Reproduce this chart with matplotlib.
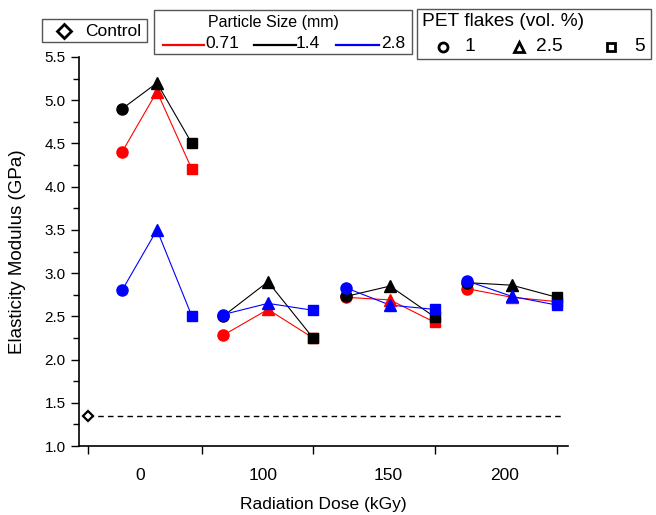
import matplotlib
matplotlib.use("Agg")
from matplotlib import pyplot as plt
from matplotlib.lines import Line2D
from matplotlib.patches import Rectangle
import numpy as np

plt.rcParams['font.family'] = ['Liberation Sans', 'DejaVu Sans']

# data
dose_labels = ['0', '100', '150', '200']
sizes = ['0.71', '1.4', '2.8']
size_colors = ['#ff0000', '#000000', '#0000ff']
vol_labels = ['1', '2.5', '5']
vol_markers = ['o', '^', 's']

# modulus (GPa) per particle size, per dose group, for 1 / 2.5 / 5 vol.%
modulus = {
    '0.71': [[4.40, 5.10, 4.20], [2.28, 2.58, 2.25], [2.72, 2.69, 2.43], [2.82, 2.72, 2.67]],
    '1.4': [[4.90, 5.20, 4.50], [2.50, 2.90, 2.25], [2.73, 2.85, 2.49], [2.89, 2.86, 2.72]],
    '2.8': [[2.80, 3.50, 2.50], [2.52, 2.65, 2.57], [2.83, 2.63, 2.58], [2.91, 2.73, 2.63]],
}
control = 1.35

# x positions (category axis)
group_x = [[0.296, 0.600, 0.904],
           [1.174, 1.565, 1.957],
           [2.243, 2.626, 3.017],
           [3.296, 3.687, 4.078]]
bounds = [0, 0.991, 1.957, 3.017, 4.078]
label_x = [0.452, 1.522, 2.609, 3.626]

W, H = 656, 515
fig = plt.figure(figsize=(W / 100, H / 100), dpi=100)
ax = fig.add_axes([79 / W, (H - 446) / H, (568 - 79) / W, (446 - 57) / H])

for s, c in zip(sizes, size_colors):
    for g in range(4):
        ax.plot(group_x[g], modulus[s][g], '-', color=c, lw=0.8, zorder=2)
        for k in range(3):
            ax.plot(group_x[g][k], modulus[s][g][k], vol_markers[k], color=c,
                    ms=8 if k != 2 else 7, mec=c, zorder=3)

ax.plot([0, 4.13], [control, control], '--', color='black', lw=1, dashes=(4, 3), zorder=1)
ax.plot(0, control, 'D', ms=5.5, mfc='white', mec='black', mew=1.6, zorder=4)

ax.set_xlim(-0.078, 4.174)
ax.set_ylim(1.0, 5.5)
ax.set_yticks(np.arange(1.0, 5.51, 0.5))
ax.set_yticks(np.arange(1.0, 5.51, 0.25), minor=True)
ax.set_xticks(bounds)
ax.set_xticklabels([])
ax.set_xticks(label_x, minor=True)
ax.set_xticklabels(dose_labels, minor=True)
ax.tick_params(axis='x', which='major', direction='out', length=6, width=1)
ax.tick_params(axis='x', which='minor', length=0, pad=16, labelsize=12.5)
ax.tick_params(axis='y', which='major', direction='out', length=6, width=1, labelsize=11)
ax.tick_params(axis='y', which='minor', direction='out', length=4, width=1)
ax.yaxis.set_major_formatter(matplotlib.ticker.FormatStrFormatter('%.1f'))
for sp in ['top', 'right']:
    ax.spines[sp].set_visible(False)
for sp in ['left', 'bottom']:
    ax.spines[sp].set_linewidth(1.2)

ax.set_xlabel('Radiation Dose (kGy)', fontsize=12.5, labelpad=10)
ax.set_ylabel('Elasticity Modulus (GPa)', fontsize=13.5)
ax.yaxis.set_label_coords((26 - 79) / 489, 0.5)


# legend boxes, drawn in figure pixels
def fx(px):
    return px / W


def fy(py):
    return 1 - py / H


def box(x0, y0, x1, y1):
    fig.add_artist(Rectangle((fx(x0), fy(y1)), fx(x1) - fx(x0), fy(y0) - fy(y1),
                             transform=fig.transFigure, fill=False,
                             edgecolor='#555555', lw=1))


def mark(px, py, m, **kw):
    fig.add_artist(Line2D([fx(px)], [fy(py)], marker=m, ls='none',
                          transform=fig.transFigure, **kw))


def txt(px, py, s, size, ha='left'):
    fig.text(fx(px), fy(py), s, fontsize=size, ha=ha, va='center')


# control
box(41.7, 19, 147, 42)
mark(64, 31, 'D', ms=7, mfc='white', mec='black', mew=2)
txt(85, 31, 'Control', 12.5)

# particle size
box(154, 10, 412, 54)
txt(273, 22.5, 'Particle Size (mm)', 11.5, ha='center')
line_x = [(163, 204), (254, 296), (336, 379)]
text_x = [205, 296, 381]
for (a, b), tx, s, c in zip(line_x, text_x, sizes, size_colors):
    fig.add_artist(Line2D([fx(a), fx(b)], [fy(45), fy(45)], color=c, lw=1.6,
                          transform=fig.transFigure))
    txt(tx, 44, s, 12.5)

# PET flakes
box(417, 9, 651, 59)
txt(422, 22, 'PET flakes (vol. %)', 13.8)
mk_x = [443, 519, 611]
vt_x = [465, 536, 634]
for m, mx, tx, s in zip(vol_markers, mk_x, vt_x, vol_labels):
    mark(mx, 47, m, ms=6.5 if m != 's' else 6, mfc='white', mec='black', mew=2)
    txt(tx, 46.5, s, 13.8)

fig.savefig('out.png', dpi=100)
